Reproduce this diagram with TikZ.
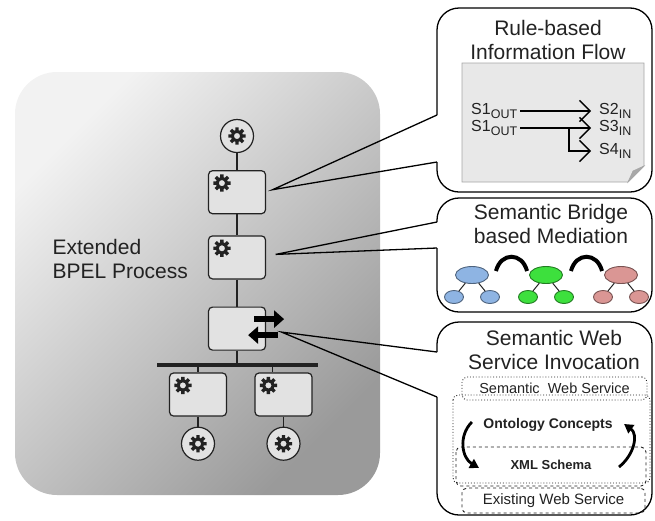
\documentclass[tikz,border=0pt]{standalone}
\usepackage{fontspec}
\setmainfont{Liberation Sans}
\usetikzlibrary{arrows.meta, shapes.geometric, positioning, calc}
\definecolor{bpelink}{HTML}{222222}
\definecolor{panellight}{HTML}{F2F2F2}
\definecolor{paneldark}{HTML}{9A9A9A}
\definecolor{taskfill}{HTML}{E2E2E2}
\definecolor{notefill}{HTML}{E8E8E8}
\definecolor{notefold}{HTML}{A8A8A8}
\definecolor{treeblue}{HTML}{8EB4E3}
\definecolor{treegreen}{HTML}{3DE03D}
\definecolor{treered}{HTML}{DA9694}
\newcommand\portsub[1]{\raisebox{-0.25em}{\fontsize{12.5}{14}\selectfont #1}}

\begin{document}
\begin{tikzpicture}[
    x=1pt, y=-1pt,
    task/.style={draw=bpelink, rectangle, rounded corners=4pt, fill=taskfill, line width=1.2pt, minimum width=57pt, minimum height=43pt, inner sep=0pt},
    event/.style={draw=bpelink, circle, fill=taskfill, line width=1.2pt, minimum size=33pt, inner sep=0pt},
    forkbar/.style={fill=bpelink, rectangle, minimum width=161pt, minimum height=4pt, inner sep=0pt},
    link/.style={draw=bpelink, line width=1.2pt},
    bubble/.style={draw=black, line width=1.3pt, rounded corners=22pt, line join=round},
    pointer/.style={draw=black, line width=1.3pt, line join=miter},
    headline/.style={font=\fontsize{21}{23.5}\selectfont, text=bpelink, align=center},
    signal/.style={font=\fontsize{16}{18}\selectfont, text=bpelink, inner sep=1pt},
    rulearrow/.style={draw=black, line width=1.3pt, shorten <=2pt, shorten >=7pt, -{Straight Barb[scale=2.6]}},
    root/.style={ellipse, line width=0.9pt, minimum width=33pt, minimum height=17pt, inner sep=0pt},
    leaf/.style={ellipse, line width=0.9pt, minimum width=19pt, minimum height=13pt, inner sep=0pt},
    treeedge/.style={draw=bpelink, line width=1pt},
    bridge/.style={draw=black, line width=4pt},
    tier/.style={draw=bpelink, rounded corners=5pt, line width=0.9pt, text=bpelink, inner sep=0pt},
    lift/.style={draw=black, line width=2.8pt, -{Triangle[length=9pt, width=10pt]}},
    gear/.pic={
      \fill[bpelink, even odd rule]
        ({-16}:6) \foreach \a in {0,45,...,315}{
          -- ({\a-16}:6) -- ({\a-11}:8.8) -- ({\a+11}:8.8) -- ({\a+16}:6)
        } -- cycle
        (0,0) circle[radius=3.1];
    }
]
\useasboundingbox (0,0) rectangle (655,520);

% process panel
\shade[top color=panellight, bottom color=paneldark, shading angle=45, rounded corners=42pt]
  (15,72) rectangle (380,495);
\node[headline, align=left, anchor=west] (bpel) at (49,259) {Extended\\BPEL Process};

% process nodes
\node[event] (start) at (237,136) {};
\node[task, below=17pt of start] (flowtask) {};
\node[task, below=21pt of flowtask] (bridgetask) {};
\node[task, below=27pt of bridgetask] (invoketask) {};
\node[forkbar, below=12pt of invoketask] (fork) {};
\node[task] (branchA) at (198,394.5) {};
\node[task] (branchB) at (283.5,394.5) {};
\node[event, below=10pt of branchA] (endA) {};
\node[event, below=10pt of branchB] (endB) {};
\coordinate (forkB) at ([xshift=-11pt]branchB.north);

\foreach \n in {flowtask, bridgetask, branchA, branchB}
  \pic at ([shift={(14,13)}]\n.north west) {gear};
\foreach \n in {start, endA, endB}
  \pic at (\n) {gear};

% exchange icon
\draw[line width=6pt, -{Triangle[length=10pt, width=17pt]}]
  ([shift={(-12,-9.5)}]invoketask.east) -- ++(30,0);
\draw[line width=6pt, -{Triangle[length=10pt, width=17pt]}]
  ([shift={(12,6.5)}]invoketask.east) -- ++(-30,0);

% sequence
\draw[link] (start) -- (flowtask);
\draw[link] (flowtask) -- (bridgetask);
\draw[link] (bridgetask) -- (invoketask);
\draw[link] (invoketask) -- (invoketask |- fork.north);
\draw[link] (fork.south -| branchA) -- (branchA);
\draw[link] (forkB |- fork.south) -- (forkB);
\draw[link] (branchA) -- (endA);
\draw[link] (branchB) -- (endB);

% callout: information flow
\coordinate (tip1) at ([shift={(6.5,-2.5)}]flowtask.east);
\draw[bubble] (437,162) -- (437,192) -- (652,192) -- (652,8) -- (437,8) -- (437,115);
\draw[pointer] (437,115) -- (tip1) -- (437,162);
\node[headline] (flowtitle) at (548,40) {Rule-based\\Information Flow};
\filldraw[fill=notefill, draw=gray!70, line width=0.8pt]
  (462,63) -- (644,63) -- (644,166) -- (628,182) -- (462,182) -- cycle;
\filldraw[fill=notefold, draw=gray!70, line width=0.6pt]
  (644,166) -- (628,182) -- (633,171) -- cycle;
\node[signal, anchor=west] (outA) at (470,111) {S1\portsub{OUT}};
\node[signal, anchor=west] (outB) at (470,128) {S1\portsub{OUT}};
\node[signal, anchor=west] (inA) at (598,111) {S2\portsub{IN}};
\node[signal, anchor=west] (inB) at (598,128) {S3\portsub{IN}};
\node[signal, anchor=west] (inC) at (598,151) {S4\portsub{IN}};
\coordinate (split) at (569,0);
\draw[rulearrow] (outA) -- (inA);
\draw[rulearrow] (outB) -- (inB);
\draw[rulearrow, shorten <=0pt] (split |- outB) |- (inC);

% callout: mediation
\coordinate (tip2) at ([shift={(9.5,-3)}]bridgetask.east);
\draw[bubble] (437,222) -- (437,198) -- (652,198) -- (652,312) -- (437,312) -- (437,248);
\draw[pointer] (437,222) -- (tip2) -- (437,248);
\node[headline] (bridgetitle) at (551,224) {Semantic Bridge\\based Mediation};
\foreach \name/\cx/\col in {blue/472/treeblue, green/546/treegreen, red/621/treered}{
  \node[root, fill=\col, draw=\col!55!black] (\name root) at (\cx,275) {};
  \node[leaf, fill=\col, draw=\col!55!black] (\name left) at (\cx-18,297) {};
  \node[leaf, fill=\col, draw=\col!55!black] (\name right) at (\cx+18,297) {};
  \draw[treeedge] (\name root) -- (\name left);
  \draw[treeedge] (\name root) -- (\name right);
}
\draw[bridge] ([shift={(7,-4)}]blueroot.east) .. controls +(5,-19) and +(-5,-19) .. ([shift={(-2,-4)}]greenroot.west);
\draw[bridge] ([shift={(8,-4)}]greenroot.east) .. controls +(5,-19) and +(-5,-19) .. ([shift={(-2,-4)}]redroot.west);

% callout: service invocation
\coordinate (tip3) at ([shift={(15.5,3.5)}]invoketask.east);
\draw[bubble] (437,352) -- (437,322) -- (652,322) -- (652,515) -- (437,515) -- (437,397);
\draw[pointer] (437,352) -- (tip3) -- (437,397);
\node[headline] (invoketitle) at (554,350) {Semantic Web\\Service Invocation};
\node[tier, dotted, minimum width=185pt, minimum height=23pt, font=\fontsize{14.5}{16}\selectfont] (sws) at (554.5,388.5) {Semantic\ \ Web Service};
\draw[tier, dotted] (453,395) rectangle (650,483);
\draw[tier, dashed] (456,447) rectangle (646,486);
\node[tier, dashed, minimum width=183pt, minimum height=25pt, font=\fontsize{15}{16}\selectfont] (ews) at (553.5,500.5) {Existing Web Service};
\node[font=\bfseries\fontsize{14}{16}\selectfont, text=bpelink] (onto) at (548,425) {Ontology Concepts};
\node[font=\bfseries\fontsize{13}{15}\selectfont, text=bpelink] (xsd) at (551,465) {XML Schema};
\draw[lift] ([shift={(-8,-3)}]onto.west) .. controls +(-14,14) and +(-17,-10) .. ([shift={(-28,3)}]xsd.west);
\draw[lift] ([shift={(24,2)}]xsd.east) .. controls +(16,-13) and +(14,10) .. ([shift={(8,-1)}]onto.east);

\end{tikzpicture}
\end{document}
